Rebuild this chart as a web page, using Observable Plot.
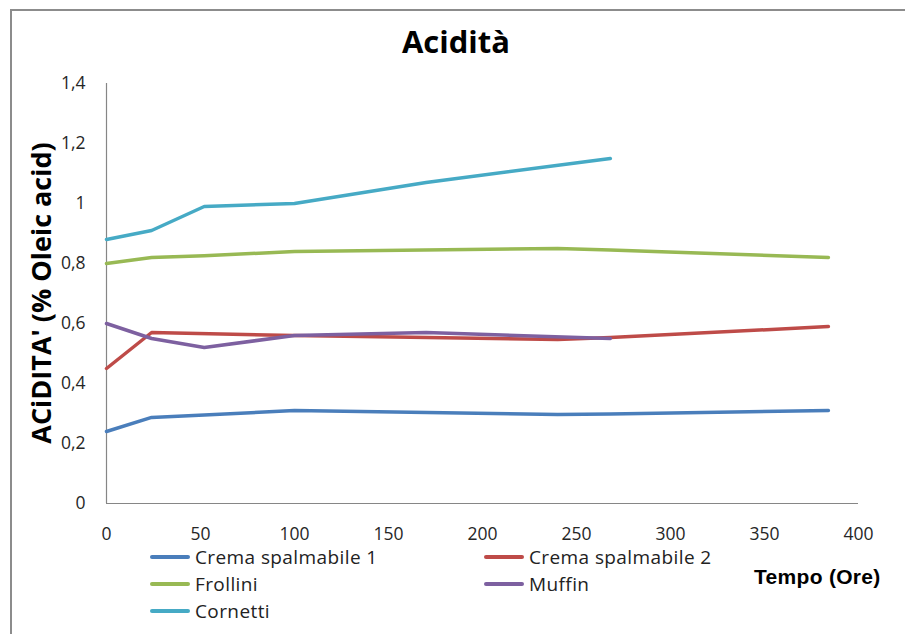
<!DOCTYPE html>
<html><head><meta charset="utf-8">
<script src="https://cdn.jsdelivr.net/npm/d3@7"></script>
<script src="https://cdn.jsdelivr.net/npm/@observablehq/plot@0.6"></script>
<style>
body{margin:0;background:#fff;font-family:"Open Sans",sans-serif;}
#wrap{position:relative;width:905px;height:634px;overflow:hidden;}
#frame{position:absolute;left:10px;top:9px;width:960px;height:700px;border:2px solid #8c8c8c;box-sizing:border-box;}
#title{position:absolute;left:0;width:912px;top:20px;text-align:center;font-weight:bold;font-size:31px;color:#000;}
#ylab{position:absolute;left:40px;top:293px;transform:translate(-50%,-50%) rotate(-90deg);white-space:nowrap;font-weight:bold;font-size:27px;color:#000;}
#xlab{position:absolute;left:754px;top:565px;font-family:"Liberation Sans",Arial,sans-serif;font-weight:bold;font-size:21px;letter-spacing:0.3px;color:#000;}
.leg{position:absolute;font-size:19px;letter-spacing:0.4px;color:#222;display:flex;align-items:center;white-space:nowrap;}
.leg span.sw{display:inline-block;width:40px;height:4px;border-radius:2px;margin-right:5px;}
#chart{position:absolute;left:0;top:0;}
</style></head>
<body><div id="wrap"><div id="chart"></div><div id="frame"></div><div id="title">Acidità</div><div id="ylab">ACiDITA' (% Oleic acid)</div><div id="xlab">Tempo (Ore)</div></div>
<script>
const series = ["Crema spalmabile 1","Crema spalmabile 2","Frollini","Muffin","Cornetti"];
const colors = ["#4a7ebb","#be4b48","#98b954","#7d60a0","#46aac5"];
const crema1T = [0,24,52,100,240,268,384];
const crema1V = [0.24,0.287,0.295,0.31,0.297,0.298,0.31];
const crema2T = [0,24,100,240,268,384];
const crema2V = [0.45,0.57,0.56,0.547,0.553,0.59];
const frolliniT = [0,24,52,100,240,268,384];
const frolliniV = [0.80,0.82,0.826,0.84,0.85,0.845,0.82];
const muffinT = [0,24,52,100,170,268];
const muffinV = [0.60,0.55,0.52,0.56,0.57,0.55];
const cornettiT = [0,24,52,100,170,268];
const cornettiV = [0.88,0.91,0.99,1.00,1.07,1.15];
const xTicks = [0,50,100,150,200,250,300,350,400];
const yTicks = [0,0.2,0.4,0.6,0.8,1,1.2,1.4];

const allT = [crema1T,crema2T,frolliniT,muffinT,cornettiT];
const allV = [crema1V,crema2V,frolliniV,muffinV,cornettiV];
const data = [];
series.forEach((s,i)=>allT[i].forEach((t,j)=>data.push({s,t,v:allV[i][j]})));

const fmt = d => String(d).replace(".",",");
const chart = Plot.plot({
  width:905,height:634,
  marginLeft:106,marginRight:47,marginTop:83,marginBottom:131,
  style:{fontFamily:"'Open Sans', sans-serif",fontSize:"17px",color:"#262626",background:"transparent"},
  x:{domain:[0,400]},
  y:{domain:[0,1.4]},
  color:{domain:series,range:colors},
  marks:[
    Plot.axisX({ticks:xTicks,tickSize:0,tickPadding:24,tickFormat:fmt,label:null,fontSize:17.5}),
    Plot.axisY({ticks:yTicks,tickSize:0,tickPadding:21,tickFormat:fmt,label:null,fontSize:17.5}),
    Plot.ruleX([0],{stroke:"#868686",strokeWidth:1.2}),
    Plot.ruleY([0],{stroke:"#868686",strokeWidth:1.2}),
    Plot.line(data,{x:"t",y:"v",z:"s",stroke:"s",strokeWidth:3.5,strokeLinecap:"round",strokeLinejoin:"round"})
  ]
});
document.getElementById("chart").appendChild(chart);

const wrap = document.getElementById("wrap");
const pos = [[150,544],[484,544],[150,571],[484,571],[150,598]];
series.forEach((s,i)=>{
  const d=document.createElement("div");d.className="leg";
  d.style.left=pos[i][0]+"px";d.style.top=pos[i][1]+"px";
  d.innerHTML=`<span class="sw" style="background:${colors[i]}"></span>${s}`;
  wrap.appendChild(d);
});
</script></body></html>
